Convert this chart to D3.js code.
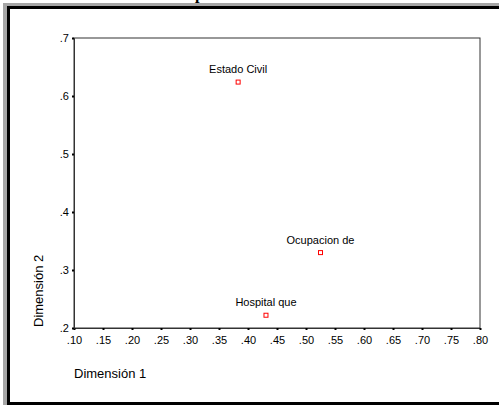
<!DOCTYPE html>
<html><head><meta charset="utf-8">
<script src="https://cdn.jsdelivr.net/npm/d3@7"></script>
<style>
html,body{margin:0;padding:0;background:#fff;}
svg{display:block;}
text{font-family:"Liberation Sans",Arial,sans-serif;fill:#000;}
</style></head><body>
<script>
const labels = ["Estado Civil", "Ocupacion de", "Hospital que"];
const dim1 = [0.383, 0.525, 0.431];
const dim2 = [0.624, 0.330, 0.222];
const xTicks = [0.10,0.15,0.20,0.25,0.30,0.35,0.40,0.45,0.50,0.55,0.60,0.65,0.70,0.75,0.80];
const yTicks = [0.2,0.3,0.4,0.5,0.6,0.7];
const title = "Gráfico de componentes";

const W = 499, H = 405;
const svg = d3.select("body").append("svg").attr("width", W).attr("height", H);

// frame
svg.append("rect").attr("x",3).attr("y",3).attr("width",W).attr("height",4).attr("fill","#a6a6a6");
svg.append("rect").attr("x",3).attr("y",3).attr("width",4).attr("height",H).attr("fill","#a6a6a6");
svg.append("rect").attr("x",7).attr("y",6).attr("width",W).attr("height",3).attr("fill","#000");
svg.append("rect").attr("x",7).attr("y",6).attr("width",3).attr("height",H).attr("fill","#000");
svg.append("rect").attr("x",7).attr("y",402).attr("width",W).attr("height",3).attr("fill","#000");

// title (mostly cut off at top, as in the reference)
const t = svg.append("text").text(title)
  .style("font-family","'Liberation Serif','Times New Roman',serif")
  .style("font-weight","bold").style("font-size","16px").attr("y",-1);
const tmp = svg.append("text").text("Gráfico de com")
  .style("font-family","'Liberation Serif','Times New Roman',serif")
  .style("font-weight","bold").style("font-size","16px");
const pre = tmp.node().getComputedTextLength();
tmp.remove();
t.attr("x", 195 - pre);

const x = d3.scaleLinear().domain([0.10, 0.80]).range([74, 480]);
const y = d3.scaleLinear().domain([0.2, 0.7]).range([328, 38]);

// plot box
svg.append("rect").attr("x",x(0.10)).attr("y",y(0.7))
  .attr("width",x(0.80)-x(0.10)).attr("height",y(0.2)-y(0.7))
  .attr("fill","none").attr("stroke","#333").attr("stroke-width",1);

const fmtX = d => d3.format(".2f")(d).replace(/^0/, "");
const fmtY = d => d3.format(".1f")(d).replace(/^0/, "");

const xAxis = svg.append("g").attr("transform",`translate(0,${y(0.2)})`)
  .call(d3.axisBottom(x).tickValues(xTicks).tickFormat(fmtX).tickSize(2).tickPadding(6));
const yAxis = svg.append("g").attr("transform",`translate(${x(0.10)},0)`)
  .call(d3.axisLeft(y).tickValues(yTicks).tickFormat(fmtY).tickSize(2).tickPadding(3));
[xAxis, yAxis].forEach(g => {
  g.select(".domain").attr("stroke","#333");
  g.selectAll(".tick line").attr("stroke","#000").attr("stroke-width",2);
  g.selectAll(".tick text").style("font-size","11px").style("font-family","'Liberation Sans',Arial,sans-serif").attr("fill","#000");
});

// axis titles
svg.append("text").attr("x",74).attr("y",378).style("font-size","13px").text("Dimensión 1");
svg.append("text").attr("transform","translate(43,327) rotate(-90)").style("font-size","13px").text("Dimensión 2");

// points
const pts = labels.map((l,i) => ({l, a: dim1[i], b: dim2[i]}));
svg.selectAll("rect.pt").data(pts).enter().append("rect").attr("class","pt")
  .attr("x", d => x(d.a)-2).attr("y", d => y(d.b)-2)
  .attr("width",4).attr("height",4).attr("fill","none").attr("stroke","#f00").attr("stroke-width",1);
svg.selectAll("text.lbl").data(pts).enter().append("text").attr("class","lbl")
  .attr("x", d => x(d.a)).attr("y", d => y(d.b)-9)
  .attr("text-anchor","middle").style("font-size","11px").text(d => d.l);
</script>
</body></html>
